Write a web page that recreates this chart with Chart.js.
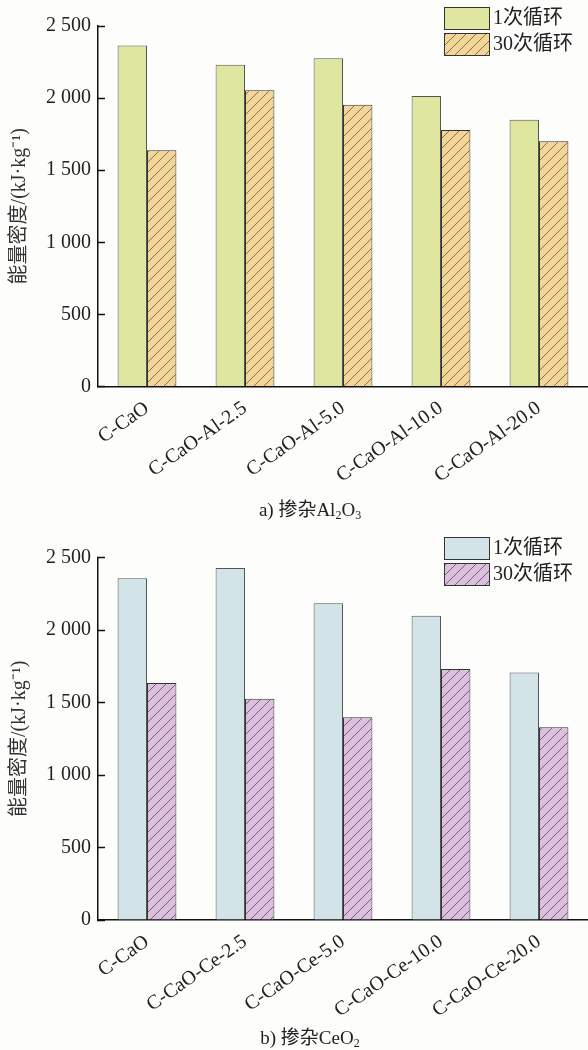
<!DOCTYPE html>
<html>
<head>
<meta charset="utf-8">
<script src="https://cdn.jsdelivr.net/npm/chart.js@4/dist/chart.umd.min.js"></script>
<style>
  body { margin: 0; background: #fdfdfc; width: 588px; height: 1050px; position: relative; overflow: hidden; }
  .box { position: absolute; left: 0; width: 588px; height: 505px; }
  .cap { position: absolute; left: 0; width: 620px; text-align: center; font: 19px "Liberation Serif", "Noto Sans CJK SC", serif; color: #222; }
  .cap sub { font-size: 12px; vertical-align: -3px; line-height: 0; }
</style>
</head>
<body>
<div class="box" style="top:0"><canvas id="chartAl"></canvas></div>
<div class="box" style="top:530px"><canvas id="chartCe"></canvas></div>
<div class="cap" style="top:494px">a) 掺杂Al<sub>2</sub>O<sub>3</sub></div>
<div class="cap" style="top:1022px">b) 掺杂CeO<sub>2</sub></div>
<script>
const catsAl = ['C-CaO', 'C-CaO-Al-2.5', 'C-CaO-Al-5.0', 'C-CaO-Al-10.0', 'C-CaO-Al-20.0'];
const catsCe = ['C-CaO', 'C-CaO-Ce-2.5', 'C-CaO-Ce-5.0', 'C-CaO-Ce-10.0', 'C-CaO-Ce-20.0'];
const seriesNames = ['1次循环', '30次循环'];
const alCycle1 = [2365, 2232, 2277, 2014, 1850];
const alCycle30 = [1638, 2055, 1954, 1779, 1700];
const ceCycle1 = [2358, 2429, 2185, 2100, 1707];
const ceCycle30 = [1636, 1526, 1399, 1732, 1330];
const yTicks = [0, 500, 1000, 1500, 2000, 2500];
const yTitle = '能量密度/(kJ·kg⁻¹)';

const serif = '"Liberation Serif", "Noto Sans CJK SC", serif';

// diagonal hatch fill
function hatch(bg, line) {
  const c = document.createElement('canvas');
  c.width = 10; c.height = 10;
  const g = c.getContext('2d');
  g.fillStyle = bg;
  g.fillRect(0, 0, 10, 10);
  g.strokeStyle = line;
  g.lineWidth = 0.8;
  g.beginPath();
  g.moveTo(0, 10); g.lineTo(10, 0);
  g.moveTo(-5, 5); g.lineTo(5, -5);
  g.moveTo(5, 15); g.lineTo(15, 5);
  g.stroke();
  return g.createPattern(c, 'repeat');
}

function fmt(v) {
  return v >= 1000 ? Math.floor(v / 1000) + ' ' + String(v % 1000).padStart(3, '0') : String(v);
}

const boxLegend = {
  id: 'boxLegend',
  afterDraw(chart) {
    const ctx = chart.ctx;
    chart.data.datasets.forEach((ds, i) => {
      const x = 444, y = 7 + i * 26, w = 45, h = 22;
      ctx.save();
      ctx.fillStyle = ds.backgroundColor;
      ctx.fillRect(x, y, w, h);
      ctx.strokeStyle = '#333';
      ctx.lineWidth = 1;
      ctx.strokeRect(x + 0.5, y + 0.5, w, h);
      ctx.fillStyle = '#222';
      ctx.font = '20px ' + serif;
      ctx.textBaseline = 'middle';
      ctx.fillText(ds.label, x + w + 4, y + h / 2 + 1);
      ctx.restore();
    });
  }
};

function makeChart(id, cats, d1, d30, c1, c30, line30, topPad, xHeight) {
  return new Chart(document.getElementById(id), {
    type: 'bar',
    data: {
      labels: cats,
      datasets: [
        { label: seriesNames[0], data: d1, backgroundColor: c1, borderColor: '#555', borderWidth: 1 },
        { label: seriesNames[1], data: d30, backgroundColor: hatch(c30, line30), borderColor: '#333', borderWidth: 1 }
      ]
    },
    options: {
      responsive: true,
      maintainAspectRatio: false,
      animation: false,
      categoryPercentage: 0.6,
      barPercentage: 1,
      layout: { padding: { top: topPad, left: 0, right: 0, bottom: 0 } },
      plugins: { legend: { display: false }, tooltip: { enabled: false } },
      scales: {
        x: {
          grid: { display: false },
          border: { color: '#111', width: 1.5 },
          ticks: {
            color: '#222', font: { family: serif, size: 20 },
            minRotation: 35, maxRotation: 35, autoSkip: false, padding: 2
          },
          afterFit: s => { s.height = xHeight; }
        },
        y: {
          min: 0, max: 2500,
          afterBuildTicks: s => { s.ticks = yTicks.map(v => ({ value: v })); },
          grid: { drawOnChartArea: false, tickLength: -7, color: '#111', tickWidth: 1.5 },
          border: { color: '#111', width: 1.5 },
          ticks: {
            color: '#222', font: { family: serif, size: 20 }, padding: 14,
            callback: v => fmt(v)
          },
          title: {
            display: true, text: yTitle, color: '#333',
            font: { family: serif, size: 20 }, padding: { top: 8, bottom: 0 }
          },
          afterFit: s => { s.width = 98; }
        }
      }
    },
    plugins: [boxLegend]
  });
}

makeChart('chartAl', catsAl, alCycle1, alCycle30, '#dee6a0', '#f3d598', '#6a5634', 25, 118.5);
makeChart('chartCe', catsCe, ceCycle1, ceCycle30, '#d2e4e8', '#dcbfdc', '#55455a', 27.7, 115);
</script>
</body>
</html>
